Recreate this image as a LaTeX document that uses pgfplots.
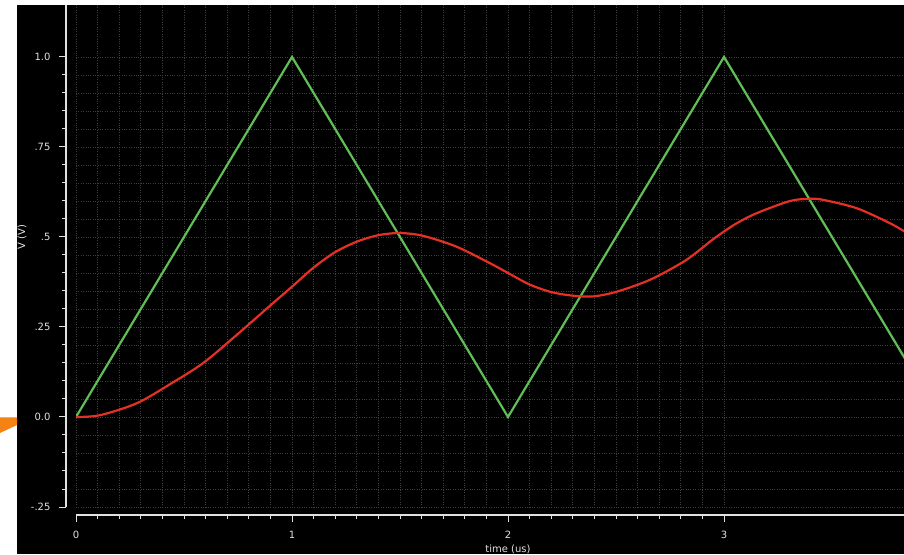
\documentclass[border=0pt]{standalone}
\usepackage{pgfplots}
\pgfplotsset{compat=1.18}
\usepackage{fontspec}
\setmainfont{DejaVu Sans}
\definecolor{grn}{RGB}{95,190,85}
\definecolor{rd}{RGB}{228,48,38}
\definecolor{gridc}{RGB}{62,62,62}
\definecolor{axc}{RGB}{225,225,225}
\definecolor{orng}{RGB}{245,130,20}
\begin{document}
\begin{tikzpicture}[x=1pt,y=1pt]
\useasboundingbox (0,0) rectangle (904,554);
\fill[white] (0,0) rectangle (904,554);
\fill[black] (17,0) rectangle (904,549);
\fill[orng] (0,136.5) -- (17,136.5) -- (17,129) -- (0,121) -- cycle;
\begin{axis}[
 at={(76pt,47pt)}, anchor=south west,
 scale only axis, width=828pt, height=502pt,
 xmin=0, xmax=3.8333, ymin=-0.25, ymax=1.1444,
 axis lines=left, axis line style={axc, line width=1.2pt, -},
 axis x line shift=8pt, axis y line shift=10pt,
 tick align=outside, major tick length=7pt, minor tick length=4pt,
 tick style={axc, line width=1pt},
 xtick={0,1,2,3}, xticklabels={0,1,2,3},
 minor x tick num=9,
 ytick={-0.25,0,0.25,0.5,0.75,1.0}, yticklabels={-.25,0.0,.25,.5,.75,1.0},
 minor y tick num=4,
 grid=both,
 major grid style={gridc, dotted, line width=0.8pt},
 minor grid style={gridc, dotted, line width=0.8pt},
 ticklabel style={font=\fontsize{10}{11}\selectfont, text=axc},
 xticklabel style={yshift=-6pt},
 yticklabel style={xshift=-5pt},
 clip=true,
]
\addplot[grn, line width=2.2pt] coordinates {(0,0) (1,1) (2,0) (3,1) (3.85,0.15)};
\addplot[rd, line width=2.2pt, smooth] coordinates {
(0,0) (0.111,0.005) (0.281,0.038) (0.435,0.091) (0.589,0.150) (0.744,0.228)
(0.9,0.31) (1.0,0.362) (1.1,0.415) (1.2,0.458) (1.3,0.487) (1.4,0.505)
(1.5,0.511) (1.608,0.503) (1.762,0.473) (1.917,0.427) (2.0,0.400) (2.1,0.368)
(2.2,0.347) (2.3,0.337) (2.395,0.335) (2.503,0.348) (2.657,0.381) (2.812,0.431)
(2.9,0.470) (2.95,0.494) (3.05,0.535) (3.151,0.566) (3.306,0.600) (3.40,0.606)
(3.460,0.603) (3.614,0.580) (3.769,0.538) (3.85,0.51)};
\end{axis}
\node[text=axc, font=\fontsize{10}{11}\selectfont] at (508,4.5) {time (us)};
\node[text=axc, font=\fontsize{10}{11}\selectfont, rotate=90] at (22,317) {V (V)};
\end{tikzpicture}
\end{document}
